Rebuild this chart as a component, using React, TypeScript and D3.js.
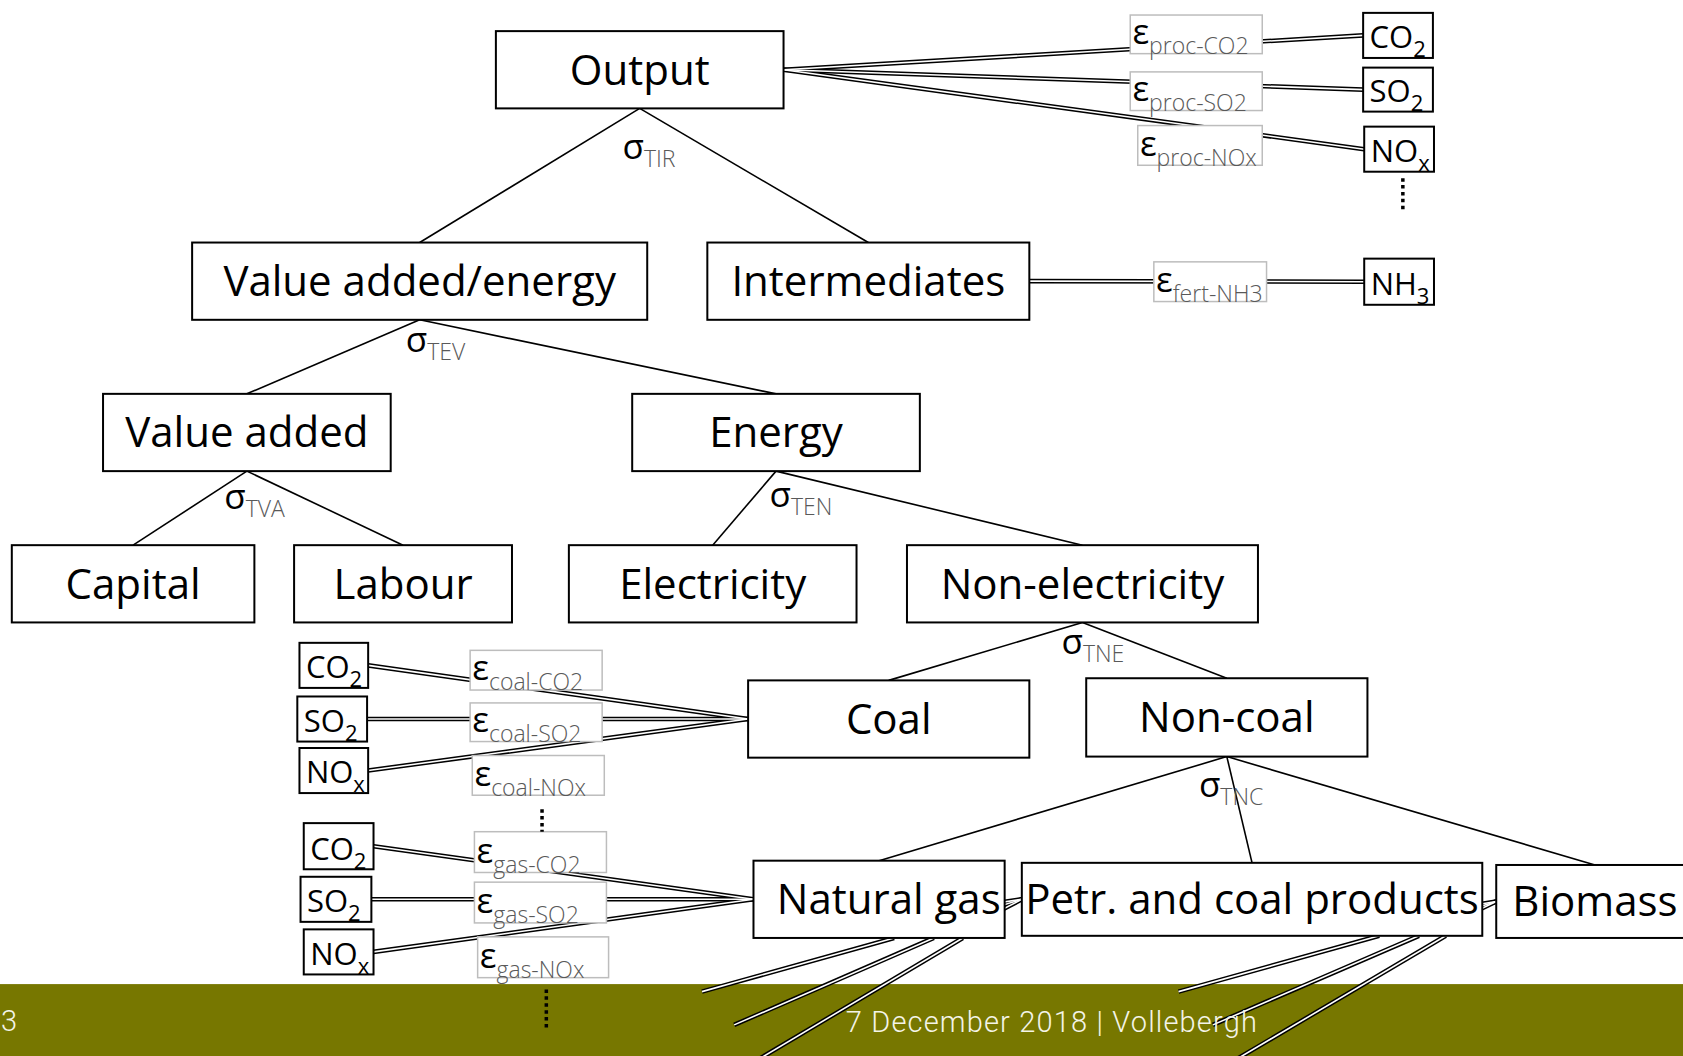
import React from "react";
import * as d3 from "d3";

// tree of the nested CES production function
const nodeLabels = ["Output", "Value added/energy", "Intermediates", "Value added", "Energy", "Capital", "Labour",
  "Electricity", "Non-electricity", "Coal", "Non-coal", "Natural gas", "Petr. and coal products", "Biomass"];

const nestParents = ["Output", "Value added/energy", "Value added", "Energy", "Non-electricity", "Non-coal"];
const nestChildren = [
  ["Value added/energy", "Intermediates"],
  ["Value added", "Energy"],
  ["Capital", "Labour"],
  ["Electricity", "Non-electricity"],
  ["Coal", "Non-coal"],
  ["Natural gas", "Petr. and coal products", "Biomass"],
];
const sigmaSubs = ["TIR", "TEV", "TVA", "TEN", "TNE", "TNC"];

// emission links (source node -> pollutant, with its elasticity)
const emissionSources = ["Output", "Output", "Output", "Intermediates", "Coal", "Coal", "Coal", "Natural gas", "Natural gas", "Natural gas"];
const emissionPollutants = ["CO2", "SO2", "NOx", "NH3", "CO2", "SO2", "NOx", "CO2", "SO2", "NOx"];
const epsilonSubs = ["proc-CO2", "proc-SO2", "proc-NOx", "fert-NH3", "coal-CO2", "coal-SO2", "coal-NOx", "gas-CO2", "gas-SO2", "gas-NOx"];

const pollutantNames = ["CO2", "SO2", "NOx", "NH3"];
const pollutantBase = ["CO", "SO", "NO", "NH"];
const pollutantIndex = ["2", "2", "x", "3"];

const footerText = "7 December 2018 | Vollebergh";
const slideNumber = "13";

// ---- layout (reference frame 1568 x 984) ----
const W = 1683, H = 1056, REF_W = 1568, REF_H = 984;

const nodeBox: Record<string, number[]> = {
  "Output": [462, 29, 730, 101],
  "Value added/energy": [179, 226, 603, 298],
  "Intermediates": [659, 226, 959, 298],
  "Value added": [96, 367, 364, 439],
  "Energy": [589, 367, 857, 439],
  "Capital": [11, 508, 237, 580],
  "Labour": [274, 508, 477, 580],
  "Electricity": [530, 508, 798, 580],
  "Non-electricity": [845, 508, 1172, 580],
  "Coal": [697, 634, 959, 706],
  "Non-coal": [1012, 632, 1274, 705],
  "Natural gas": [702, 802, 936, 874],
  "Petr. and coal products": [952, 804, 1381, 872],
  "Biomass": [1394, 806, 1578, 874],
};
// label centre offsets where the text is not centred in its box
const labelShift: Record<string, number> = { "Natural gas": 9, "Petr. and coal products": 0 };

const emissionBox = [
  [1270, 12, 1335, 54], [1270, 63, 1335, 104], [1271, 118, 1336, 160], [1271, 241, 1336, 284],
  [279, 599, 343, 641], [277, 649, 342, 691], [279, 697, 343, 739],
  [283, 767, 348, 810], [280, 817, 346, 859], [283, 866, 348, 908],
];
const epsBox = [
  [1053, 14, 1176, 50], [1053, 67, 1176, 103], [1060, 117, 1176, 154], [1075, 244, 1180, 281],
  [438, 606, 561, 643], [438, 655, 561, 691], [440, 704, 563, 741],
  [442, 775, 565, 813], [442, 822, 565, 860], [445, 873, 567, 911],
];
const sigmaAt = [[580, 148], [378, 328], [209, 474], [717, 472], [989, 609], [1117, 743]];

// links whose ends are hidden behind neighbouring boxes
const stubLinks: [string, number[][]][] = [
  ["Petr. and coal products", [[900, 865], [880, 860], [870, 850]]],
  ["Biomass", [[1340, 866], [1330, 860], [1320, 852]]],
];
// links running out of the slide at the bottom: [start x on box bottom, end x, end y]
const tailLinks: [string, number[][]][] = [
  ["Natural gas", [[833, 654, 924], [870, 684, 955], [897, 685, 1000]]],
  ["Petr. and coal products", [[1285, 1098, 924], [1322, 1130, 955], [1347, 1130, 1000]]],
];
const dotRuns = [[1307, 166, 198], [505, 754, 775], [509, 922, 958]];
const footerTop = 917;

const FONT = "'Open Sans', 'Noto Sans', sans-serif";

export default function App() {
  const sx = d3.scaleLinear().domain([0, REF_W]).range([0, W]);
  const sy = d3.scaleLinear().domain([0, REF_H]).range([0, H]);
  const line = d3.line<number[]>().x(d => sx(d[0])).y(d => sy(d[1]));
  const cx = (b: number[]) => (b[0] + b[2]) / 2;
  const cy = (b: number[]) => (b[1] + b[3]) / 2;

  const connectors = nestParents.flatMap((p, i) => nestChildren[i].map(c => {
    const pb = nodeBox[p], cb = nodeBox[c];
    return [[cx(pb), pb[3]], [cx(cb), cb[1]]];
  }));

  const doubles: number[][][] = [];
  emissionSources.forEach((src, i) => {
    const s = nodeBox[src], e = emissionBox[i];
    const toRight = cx(e) > cx(s);
    doubles.push([
      toRight ? [s[2], cy(s)] : [s[0], cy(s)],
      toRight ? [e[0], cy(e)] : [e[2], cy(e)],
    ]);
  });
  stubLinks.forEach(([n, ends]) => {
    const b = nodeBox[n];
    ends.forEach(p => doubles.push([[b[0], cy(b)], p]));
  });
  tailLinks.forEach(([n, ends]) => {
    const b = nodeBox[n];
    ends.forEach(t => doubles.push([[t[0], b[3]], [t[1], t[2]]]));
  });

  const rect = (b: number[]) => ({ x: sx(b[0]), y: sy(b[1]), width: sx(b[2]) - sx(b[0]), height: sy(b[3]) - sy(b[1]) });

  return (
    <svg width={W} height={H} style={{ position: "absolute", left: 0, top: 0, background: "#fff" }} fontFamily={FONT}>
      <rect x={0} y={sy(footerTop)} width={W} height={H - sy(footerTop)} fill="#777700" />

      {connectors.map((c, i) => (
        <path key={"c" + i} d={line(c) || ""} stroke="#000" strokeWidth={1.6} fill="none" />
      ))}

      {doubles.map((d, i) => (
        <path key={"db" + i} d={line(d) || ""} stroke="#000" strokeWidth={4.6} fill="none" />
      ))}
      {doubles.map((d, i) => (
        <path key={"dw" + i} d={line(d) || ""} stroke="#fff" strokeWidth={1.6} fill="none" />
      ))}

      {nodeLabels.map(n => {
        const b = nodeBox[n];
        return (
          <g key={n}>
            <rect {...rect(b)} fill="#fff" stroke="#000" strokeWidth={2} />
            <text x={sx(cx(b) + (labelShift[n] || 0))} y={sy(cy(b)) + 15} textAnchor="middle" fontSize={42} fill="#000">{n}</text>
          </g>
        );
      })}

      {epsBox.map((b, i) => (
        <g key={"e" + i}>
          <rect {...rect(b)} fill="#fff" stroke="#bdbdbd" strokeWidth={1.5} />
          <text x={sx(b[0] + 2)} y={sy(b[3] - 9)}>
            <tspan fontSize={35} fill="#000">ε</tspan>
            <tspan fontSize={23} dy={10} fill="#595959" fontWeight={300}>{epsilonSubs[i]}</tspan>
          </text>
        </g>
      ))}

      {emissionBox.map((b, i) => {
        const k = pollutantNames.indexOf(emissionPollutants[i]);
        return (
          <g key={"p" + i}>
            <rect {...rect(b)} fill="#fff" stroke="#000" strokeWidth={2} />
            <text x={sx(b[0] + 6)} y={sy(b[3] - 9)} fill="#000">
              <tspan fontSize={31}>{pollutantBase[k]}</tspan>
              <tspan fontSize={22} dy={9}>{pollutantIndex[k]}</tspan>
            </text>
          </g>
        );
      })}

      {sigmaSubs.map((s, i) => (
        <text key={"s" + i} x={sx(sigmaAt[i][0])} y={sy(sigmaAt[i][1])}>
          <tspan fontSize={35} fill="#000">σ</tspan>
          <tspan fontSize={23} dy={8} fill="#595959" fontWeight={300}>{s}</tspan>
        </text>
      ))}

      {dotRuns.map((d, i) => (
        <line key={"d" + i} x1={sx(d[0])} x2={sx(d[0])} y1={sy(d[1])} y2={sy(d[2])}
          stroke="#000" strokeWidth={3.5} strokeDasharray="3.5 3.4" />
      ))}

      <text x={sx(788)} y={sy(962)} fontFamily="Roboto, sans-serif" fontWeight={300} fontSize={29}
        fill="#f4f4e8" textLength={sx(1171) - sx(788)} lengthAdjust="spacing">{footerText}</text>
      <text x={17} y={1031} fontFamily="Roboto, sans-serif" fontWeight={300} fontSize={29}
        fill="#f4f4e8" textAnchor="end">{slideNumber}</text>
    </svg>
  );
}
